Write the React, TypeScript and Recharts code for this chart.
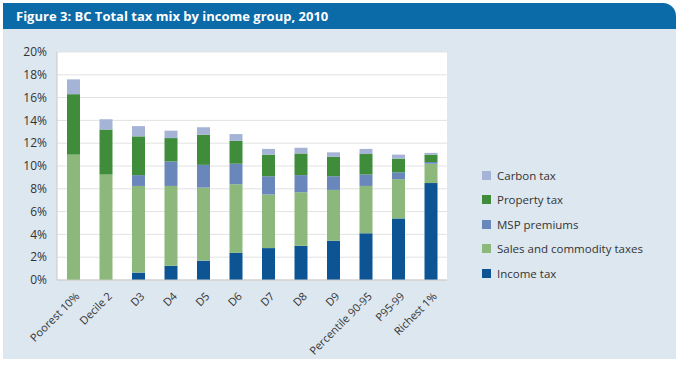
import { BarChart, Bar, XAxis, YAxis, CartesianGrid } from 'recharts';

const groups = ['Poorest 10%', 'Decile 2', 'D3', 'D4', 'D5', 'D6', 'D7', 'D8', 'D9', 'Percentile 90-95', 'P95-99', 'Richest 1%'];
const incomeTax = [0, 0, 0.65, 1.25, 1.7, 2.4, 2.8, 3.0, 3.45, 4.1, 5.4, 8.5];
const salesTax = [11.0, 9.25, 7.6, 7.0, 6.4, 6.0, 4.7, 4.7, 4.45, 4.15, 3.45, 1.7];
const mspPremiums = [0, 0, 0.95, 2.15, 2.0, 1.8, 1.6, 1.5, 1.2, 1.0, 0.6, 0.15];
const propertyTax = [5.3, 3.95, 3.4, 2.05, 2.65, 2.0, 1.9, 1.9, 1.7, 1.8, 1.2, 0.65];
const carbonTax = [1.3, 0.9, 0.9, 0.65, 0.65, 0.6, 0.5, 0.5, 0.4, 0.45, 0.35, 0.15];
const yTicks = [0, 2, 4, 6, 8, 10, 12, 14, 16, 18, 20];

const data = groups.map((g, i) => ({
  group: g,
  income: incomeTax[i],
  sales: salesTax[i],
  msp: mspPremiums[i],
  property: propertyTax[i],
  carbon: carbonTax[i],
}));

const FONT = '"Open Sans", "Noto Sans", sans-serif';

const series = [
  { key: 'income', name: 'Income tax', color: '#0d5494' },
  { key: 'sales', name: 'Sales and commodity taxes', color: '#8db87b' },
  { key: 'msp', name: 'MSP premiums', color: '#6a87bb' },
  { key: 'property', name: 'Property tax', color: '#3f8c3b' },
  { key: 'carbon', name: 'Carbon tax', color: '#a5b4d6' },
];

function XTick(props: any) {
  const { x, y, payload } = props;
  return (
    <text
      x={x + 7}
      y={y + 9}
      textAnchor="end"
      fontSize={11}
      fill="#333"
      fontFamily={FONT}
      transform={`rotate(-45, ${x + 7}, ${y + 9})`}
    >
      {payload.value}
    </text>
  );
}

// legend lists the stack top-down, like the bars
function LegendBox() {
  const items = [...series].reverse();
  return (
    <div style={{ position: 'absolute', left: 482, top: 163, fontFamily: FONT, fontSize: 11.5, color: '#333' }}>
      {items.map((s) => (
        <div key={s.key} style={{ display: 'flex', alignItems: 'center', height: 24.5 }}>
          <span style={{ width: 9, height: 9, background: s.color, marginRight: 6, display: 'inline-block' }} />
          {s.name}
        </div>
      ))}
    </div>
  );
}

export default function App() {
  return (
    <div style={{ position: 'absolute', left: 0, top: 0, width: 680, height: 365, background: '#fff' }}>
      <div
        style={{
          position: 'absolute', left: 3, top: 3, width: 673, height: 26,
          background: '#0b6aa8', borderTopRightRadius: 13,
          color: '#fff', fontFamily: FONT, fontWeight: 700, fontSize: 13,
          lineHeight: '26px', paddingLeft: 13, boxSizing: 'border-box',
        }}
      >
        Figure 3: BC Total tax mix by income group, 2010
      </div>
      <div style={{ position: 'absolute', left: 3, top: 29, width: 673, height: 330, background: '#dde7f0' }} />
      <div style={{ position: 'absolute', left: 0, top: 0 }}>
        <BarChart
          width={680}
          height={365}
          data={data}
          margin={{ top: 52, right: 233, bottom: 0, left: 0 }}
          barSize={13}
        >
          <CartesianGrid vertical={false} stroke="#e2e2e2" fill="#fff" />
          <XAxis
            dataKey="group"
            interval={0}
            tick={<XTick />}
            axisLine={{ stroke: '#c8c8c8' }}
            tickLine={false}
            height={85}
          />
          <YAxis
            width={57}
            domain={[0, 20]}
            ticks={yTicks}
            interval={0}
            tickFormatter={(v: number) => `${v}%`}
            tick={{ fontSize: 12, fill: '#333', fontFamily: FONT }}
            axisLine={{ stroke: '#c8c8c8' }}
            tickLine={false}
            tickMargin={4}
          />
          {series.map((s) => (
            <Bar key={s.key} dataKey={s.key} name={s.name} stackId="a" fill={s.color} isAnimationActive={false} />
          ))}
        </BarChart>
      </div>
      <LegendBox />
    </div>
  );
}
